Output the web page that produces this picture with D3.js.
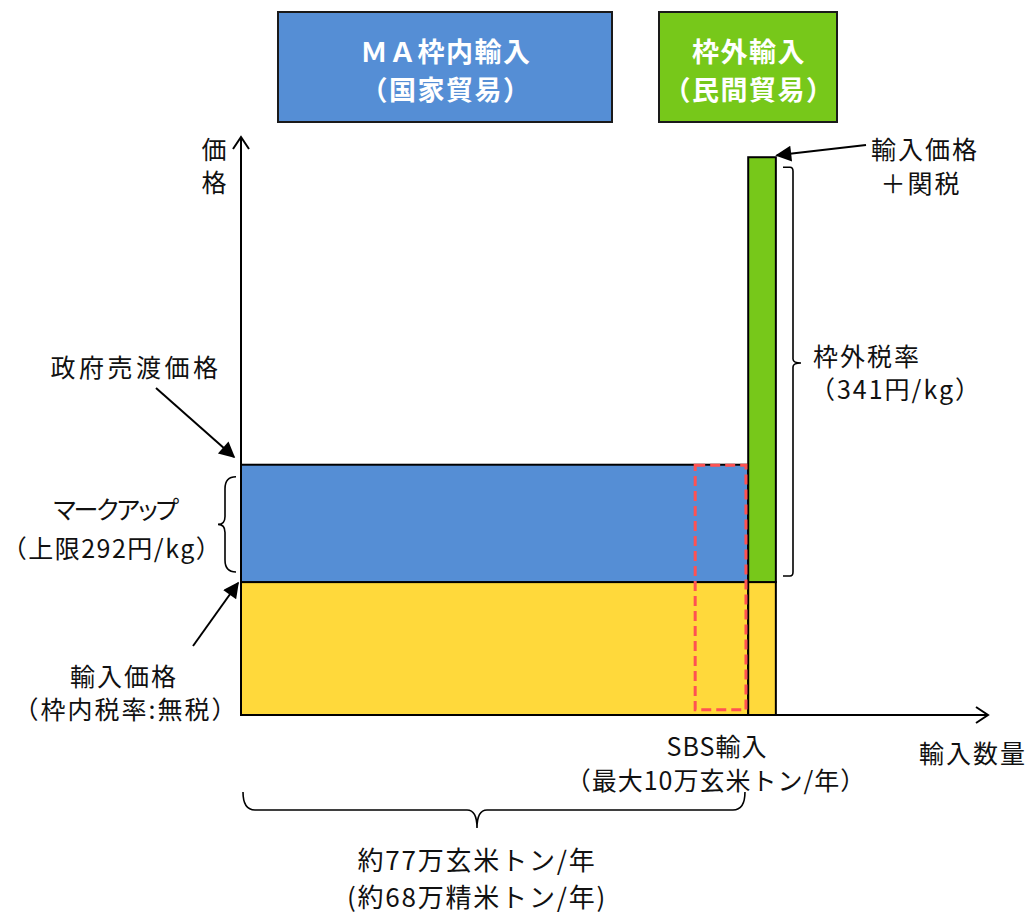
<!DOCTYPE html>
<html lang="ja">
<head>
<meta charset="utf-8">
<script src="https://cdn.jsdelivr.net/npm/d3@7"></script>
<style>
  html, body { margin: 0; padding: 0; background: #fff; }
  svg { display: block; }
  text { font-family: "Noto Sans CJK JP", "Noto Sans", sans-serif; fill: #111; }
</style>
</head>
<body>
<svg id="chart" width="1030" height="915"></svg>
<script>
// Schematic price / quantity levels (not to scale, 0–100 index units)
const priceLevels = {
  importPrice: 23.0,     // 輸入価格
  govSellPrice: 43.3,    // 政府売渡価格
  outOfQuotaPrice: 96.5  // 輸入価格＋関税
};
const maRange = [0, 67.9];            // ＭＡ枠内輸入
const outOfQuotaRange = [67.9, 71.6]; // 枠外輸入
const sbsRange = [60.8, 67.6];        // SBS輸入
const sbsPriceRange = [0.9, 43.2];

const headerLabels = [
  { lines: ["ＭＡ枠内輸入", "（国家貿易）"], color: "#558ED5" },
  { lines: ["枠外輸入", "（民間貿易）"], color: "#77C81A" }
];

const colors = { blue: "#558ED5", yellow: "#FFD93B", green: "#77C81A", red: "#FF5252" };

const svg = d3.select("#chart");
const x = d3.scaleLinear().domain([0, 100]).range([241, 988]);
const y = d3.scaleLinear().domain([0, 100]).range([715, 137]);

// arrow marker
const defs = svg.append("defs");
defs.append("marker").attr("id", "tri-lg")
  .attr("viewBox", "0 0 10 10").attr("refX", 9).attr("refY", 5)
  .attr("markerWidth", 20).attr("markerHeight", 16).attr("markerUnits", "userSpaceOnUse")
  .attr("orient", "auto")
  .append("path").attr("d", "M0,0 L10,5 L0,10 Z").attr("fill", "#000");

// header boxes
const headers = [
  { x0: 278, x1: 612, ...headerLabels[0] },
  { x0: 659, x1: 837, ...headerLabels[1] }
];
headers.forEach(h => {
  svg.append("rect").attr("x", h.x0).attr("y", 12).attr("width", h.x1 - h.x0).attr("height", 110)
    .attr("fill", h.color).attr("stroke", "#1a1a1a").attr("stroke-width", 2);
  h.lines.forEach((t, i) => {
    svg.append("text").attr("x", (h.x0 + h.x1) / 2 + 1).attr("y", 50 + i * 38)
      .attr("text-anchor", "middle").attr("dominant-baseline", "central")
      .style("fill", "#fff").style("font-weight", "bold").style("font-size", "27px")
      .style("letter-spacing", "1.5px")
      .text(t);
  });
});

// price blocks
const blocks = [
  { q: maRange, p: [0, priceLevels.importPrice], fill: colors.yellow },
  { q: maRange, p: [priceLevels.importPrice, priceLevels.govSellPrice], fill: colors.blue },
  { q: outOfQuotaRange, p: [0, priceLevels.importPrice], fill: colors.yellow },
  { q: outOfQuotaRange, p: [priceLevels.importPrice, priceLevels.outOfQuotaPrice], fill: colors.green }
];
svg.append("g").selectAll("rect").data(blocks).join("rect")
  .attr("x", d => x(d.q[0])).attr("width", d => x(d.q[1]) - x(d.q[0]))
  .attr("y", d => y(d.p[1])).attr("height", d => y(d.p[0]) - y(d.p[1]))
  .attr("fill", d => d.fill).attr("stroke", "#000").attr("stroke-width", 2);

// SBS dashed frame
svg.append("rect")
  .attr("x", x(sbsRange[0])).attr("width", x(sbsRange[1]) - x(sbsRange[0]))
  .attr("y", y(sbsPriceRange[1])).attr("height", y(sbsPriceRange[0]) - y(sbsPriceRange[1]))
  .attr("fill", "none").attr("stroke", colors.red).attr("stroke-width", 3)
  .attr("stroke-dasharray", "10,5");

// axes with open arrow heads
const axes = svg.append("g").attr("stroke", "#000").attr("stroke-width", 2).attr("fill", "none");
axes.append("line").attr("x1", x(0)).attr("y1", y(0)).attr("x2", x(0)).attr("y2", y(100));
axes.append("path").attr("d", `M${x(0) - 8},${y(100) + 12} L${x(0)},${y(100)} L${x(0) + 8},${y(100) + 12}`);
axes.append("line").attr("x1", x(0)).attr("y1", y(0)).attr("x2", x(100)).attr("y2", y(0));
axes.append("path").attr("d", `M${x(100) - 12},${y(0) - 8} L${x(100)},${y(0)} L${x(100) - 12},${y(0) + 8}`);

// text helper
function label(lines, cx, cy, opts = {}) {
  const gap = opts.gap || 33;
  lines.forEach((t, i) => {
    const el = svg.append("text").attr("x", Array.isArray(cx) ? cx[i] : cx).attr("y", cy + i * gap)
      .attr("text-anchor", "middle").attr("dominant-baseline", "central")
      .style("font-size", (opts.size || 25) + "px")
      .style("letter-spacing", (Array.isArray(opts.ls) ? opts.ls[i] : (opts.ls == null ? 2 : opts.ls)) + "px")
      .text(t);
    if (opts.palt && opts.palt[i]) el.style("font-feature-settings", '"palt"');
  });
}

// axis titles
label(["価", "格"], 214, 148, { gap: 33, ls: 0 });
label(["輸入数量"], 973, 752);

// left annotations
label(["政府売渡価格"], 136, 366, { ls: 3.5 });
label(["マークアップ", "（上限292円/kg）"], [115, 112], 508, { gap: 39, palt: [true, false], ls: [-2, 1.5] });
label(["輸入価格", "（枠内税率:無税）"], [124, 126], 675, { gap: 33 });

// right annotations
label(["輸入価格", "＋関税"], [925, 921], 148, { gap: 34 });
label(["枠外税率", "（341円/kg）"], [867, 896], 355, { gap: 33 });

// bottom annotations
label(["SBS輸入", "（最大10万玄米トン/年）"], [717, 716], 745, { gap: 34, ls: 1 });
label(["約77万玄米トン/年", "(約68万精米トン/年)"], [477, 477], 858, { gap: 37, ls: 1.8, size: 26 });

// annotation arrows
const arrows = svg.append("g").attr("stroke", "#000").attr("stroke-width", 2);
arrows.append("line").attr("x1", 156).attr("y1", 388).attr("x2", 234).attr("y2", 457).attr("marker-end", "url(#tri-lg)");
arrows.append("line").attr("x1", 193).attr("y1", 646).attr("x2", 238).attr("y2", 583).attr("marker-end", "url(#tri-lg)");
arrows.append("line").attr("x1", 866).attr("y1", 145).attr("x2", x(outOfQuotaRange[1]) + 1).attr("y2", y(priceLevels.outOfQuotaPrice) - 2).attr("marker-end", "url(#tri-lg)");

// braces
const braces = svg.append("g").attr("stroke", "#000").attr("stroke-width", 1.6).attr("fill", "none");
const mkTop = y(priceLevels.govSellPrice) + 12, mkBot = y(priceLevels.importPrice) - 10, mkMid = (mkTop + mkBot) / 2;
braces.append("path").attr("d",
  `M236,${mkTop} Q225,${mkTop} 225,${mkTop + 12} L225,${mkMid - 8} Q225,${mkMid} 218,${mkMid}` +
  ` Q225,${mkMid} 225,${mkMid + 8} L225,${mkBot - 12} Q225,${mkBot} 236,${mkBot}`);
const tTop = y(priceLevels.outOfQuotaPrice) + 10, tBot = y(priceLevels.importPrice) - 6, tMid = 363;
braces.append("path").attr("d",
  `M783,${tTop} L790,${tTop} Q793,${tTop} 793,${tTop + 4} L793,${tMid - 4} Q793,${tMid} 801,${tMid}` +
  ` Q793,${tMid} 793,${tMid + 4} L793,${tBot - 4} Q793,${tBot} 790,${tBot} L783,${tBot}`);
const bx0 = x(maRange[0]) + 2, bx1 = x(sbsRange[1]) - 1, bmid = 477;
braces.append("path").attr("d",
  `M${bx0},792 Q${bx0},810 ${bx0 + 12},810 L${bmid - 10},810 Q${bmid},810 ${bmid},828` +
  ` Q${bmid},810 ${bmid + 10},810 L${bx1 - 12},810 Q${bx1},810 ${bx1},792`);
</script>
</body>
</html>
